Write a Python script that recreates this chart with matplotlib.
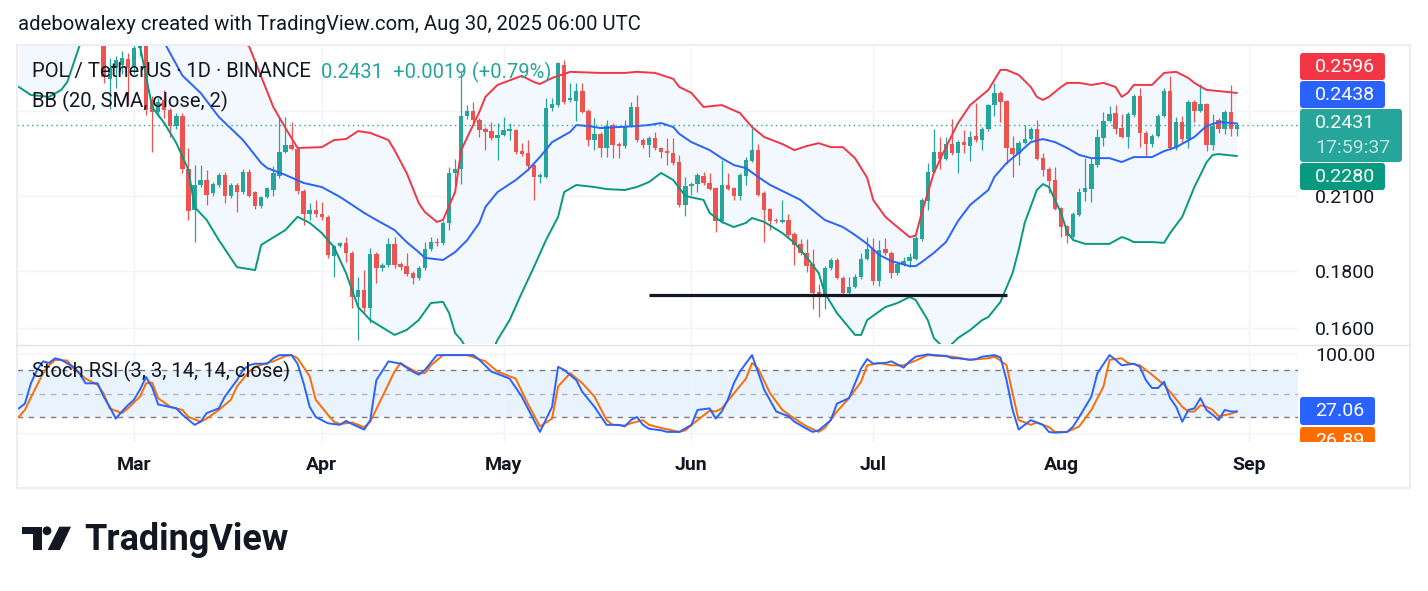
import numpy as np
import matplotlib
matplotlib.use("Agg")
import matplotlib.pyplot as plt
import matplotlib.dates as mdates
from matplotlib.patches import FancyBboxPatch, Rectangle, Circle, Polygon
from matplotlib.ticker import FixedLocator, FuncFormatter, NullLocator, NullFormatter

plt.rcParams['font.family'] = ['Roboto', 'DejaVu Sans']

START = np.datetime64('2025-03-01')   # day 0 of every day offset below
first_day = -5                        # first candle: Feb 24

opens = [0.2950, 0.2670, 0.2730, 0.2750, 0.2785, 0.2740, 0.2850, 0.3150, 0.2559, 0.2497,
         0.2559, 0.2507, 0.2425, 0.2476, 0.2220, 0.2040, 0.2148, 0.2170, 0.2113, 0.2150,
         0.2193, 0.2100, 0.2148, 0.2117, 0.2206, 0.2117, 0.2058, 0.2096, 0.2126, 0.2188,
         0.2299, 0.2332, 0.2315, 0.2122, 0.2024, 0.2040, 0.2024, 0.2012, 0.1856, 0.1895,
         0.1907, 0.1868, 0.1706, 0.1731, 0.1668, 0.1864, 0.1810, 0.1822, 0.1903, 0.1826,
         0.1818, 0.1792, 0.1774, 0.1811, 0.1883, 0.1912, 0.1906, 0.1988, 0.2202, 0.2220,
         0.2476, 0.2502, 0.2455, 0.2410, 0.2400, 0.2366, 0.2381, 0.2400, 0.2405, 0.2303,
         0.2294, 0.2238, 0.2184, 0.2184, 0.2517, 0.2532, 0.2750, 0.2559, 0.2554, 0.2607,
         0.2502, 0.2356, 0.2386, 0.2318, 0.2430, 0.2337, 0.2327, 0.2425, 0.2522, 0.2356,
         0.2332, 0.2366, 0.2318, 0.2303, 0.2294, 0.2252, 0.2062, 0.2143, 0.2152, 0.2188,
         0.2157, 0.2135, 0.1994, 0.2148, 0.2135, 0.2100, 0.2188, 0.2257, 0.2308, 0.2113,
         0.2045, 0.1999, 0.1990, 0.1999, 0.1942, 0.1903, 0.1868, 0.1826, 0.1722, 0.1718,
         0.1810, 0.1841, 0.1774, 0.1720, 0.1742, 0.1778, 0.1845, 0.1883, 0.1763, 0.1883,
         0.1868, 0.1792, 0.1826, 0.1837, 0.1845, 0.1922, 0.2079, 0.2206, 0.2299, 0.2266,
         0.2337, 0.2294, 0.2346, 0.2327, 0.2376, 0.2356, 0.2410, 0.2532, 0.2596, 0.2554,
         0.2318, 0.2290, 0.2341, 0.2361, 0.2410, 0.2270, 0.2220, 0.2170, 0.2049, 0.1974,
         0.1930, 0.2020, 0.2117, 0.2130, 0.2238, 0.2366, 0.2450, 0.2491, 0.2415, 0.2371,
         0.2481, 0.2580, 0.2391, 0.2337, 0.2376, 0.2476, 0.2607, 0.2318, 0.2445, 0.2361,
         0.2549, 0.2502, 0.2537, 0.2332, 0.2455, 0.2410, 0.2497, 0.2412]
highs = [0.3000, 0.2790, 0.2800, 0.2830, 0.2820, 0.2880, 0.3250, 0.3180, 0.2580, 0.2570,
         0.2612, 0.2515, 0.2490, 0.2490, 0.2318, 0.2238, 0.2238, 0.2215, 0.2160, 0.2200,
         0.2205, 0.2155, 0.2155, 0.2220, 0.2220, 0.2120, 0.2100, 0.2138, 0.2233, 0.2471,
         0.2471, 0.2445, 0.2320, 0.2130, 0.2070, 0.2083, 0.2075, 0.2020, 0.1900, 0.1912,
         0.1930, 0.1875, 0.1778, 0.1803, 0.1887, 0.1870, 0.1830, 0.1926, 0.1930, 0.1835,
         0.1868, 0.1800, 0.1820, 0.1910, 0.1930, 0.1926, 0.1995, 0.2229, 0.2265, 0.2711,
         0.2532, 0.2546, 0.2465, 0.2418, 0.2444, 0.2440, 0.2471, 0.2440, 0.2410, 0.2341,
         0.2356, 0.2245, 0.2200, 0.2570, 0.2570, 0.2767, 0.2778, 0.2650, 0.2650, 0.2650,
         0.2510, 0.2465, 0.2395, 0.2455, 0.2440, 0.2345, 0.2455, 0.2546, 0.2585, 0.2365,
         0.2375, 0.2395, 0.2325, 0.2366, 0.2366, 0.2285, 0.2184, 0.2160, 0.2200, 0.2206,
         0.2202, 0.2140, 0.2261, 0.2202, 0.2140, 0.2200, 0.2275, 0.2415, 0.2337, 0.2120,
         0.2050, 0.2005, 0.2083, 0.2024, 0.1950, 0.1922, 0.1922, 0.1883, 0.1752, 0.1820,
         0.1849, 0.1849, 0.1780, 0.1778, 0.1789, 0.1868, 0.1930, 0.1926, 0.1918, 0.1926,
         0.1875, 0.1835, 0.1853, 0.1868, 0.1935, 0.2090, 0.2247, 0.2410, 0.2371, 0.2371,
         0.2460, 0.2355, 0.2405, 0.2400, 0.2541, 0.2420, 0.2540, 0.2650, 0.2605, 0.2559,
         0.2376, 0.2350, 0.2430, 0.2420, 0.2455, 0.2294, 0.2229, 0.2229, 0.2055, 0.1980,
         0.2032, 0.2135, 0.2270, 0.2270, 0.2410, 0.2497, 0.2527, 0.2532, 0.2486, 0.2495,
         0.2590, 0.2622, 0.2400, 0.2385, 0.2485, 0.2622, 0.2689, 0.2471, 0.2476, 0.2560,
         0.2560, 0.2644, 0.2545, 0.2486, 0.2465, 0.2505, 0.2639, 0.2440]
lows = [0.2650, 0.2510, 0.2620, 0.2700, 0.2532, 0.2700, 0.2800, 0.2480, 0.2299, 0.2470,
        0.2465, 0.2370, 0.2410, 0.2200, 0.1999, 0.1910, 0.2140, 0.2062, 0.2100, 0.2140,
        0.2070, 0.2090, 0.2032, 0.2110, 0.2095, 0.2045, 0.2050, 0.2090, 0.2100, 0.2180,
        0.2295, 0.2308, 0.2110, 0.1978, 0.1999, 0.2010, 0.2000, 0.1850, 0.1778, 0.1890,
        0.1833, 0.1668, 0.1562, 0.1651, 0.1617, 0.1756, 0.1800, 0.1815, 0.1810, 0.1803,
        0.1780, 0.1752, 0.1765, 0.1805, 0.1875, 0.1895, 0.1900, 0.1958, 0.2152, 0.2152,
        0.2460, 0.2440, 0.2370, 0.2308, 0.2356, 0.2261, 0.2375, 0.2356, 0.2290, 0.2280,
        0.2215, 0.2083, 0.2157, 0.2180, 0.2500, 0.2520, 0.2540, 0.2550, 0.2450, 0.2490,
        0.2327, 0.2308, 0.2275, 0.2275, 0.2270, 0.2270, 0.2320, 0.2420, 0.2345, 0.2320,
        0.2275, 0.2310, 0.2270, 0.2238, 0.2240, 0.2055, 0.2016, 0.2104, 0.2117, 0.2150,
        0.2125, 0.1950, 0.1985, 0.2125, 0.2083, 0.2083, 0.2148, 0.2250, 0.2100, 0.1910,
        0.1958, 0.1985, 0.1985, 0.1930, 0.1822, 0.1860, 0.1796, 0.1665, 0.1637, 0.1665,
        0.1805, 0.1770, 0.1710, 0.1713, 0.1738, 0.1772, 0.1840, 0.1749, 0.1745, 0.1860,
        0.1774, 0.1785, 0.1820, 0.1815, 0.1840, 0.1915, 0.2040, 0.2200, 0.2220, 0.2260,
        0.2285, 0.2202, 0.2294, 0.2257, 0.2345, 0.2308, 0.2400, 0.2476, 0.2445, 0.2243,
        0.2184, 0.2238, 0.2335, 0.2355, 0.2260, 0.2188, 0.2113, 0.2040, 0.1930, 0.1907,
        0.1925, 0.2015, 0.2079, 0.2075, 0.2230, 0.2327, 0.2445, 0.2386, 0.2365, 0.2318,
        0.2471, 0.2323, 0.2280, 0.2323, 0.2370, 0.2470, 0.2310, 0.2310, 0.2341, 0.2318,
        0.2445, 0.2495, 0.2303, 0.2308, 0.2390, 0.2386, 0.2376, 0.2376]
closes = [0.2685, 0.2730, 0.2778, 0.2790, 0.2733, 0.2845, 0.3150, 0.2507, 0.2497, 0.2549,
          0.2507, 0.2425, 0.2476, 0.2220, 0.2036, 0.2148, 0.2170, 0.2104, 0.2152, 0.2193,
          0.2100, 0.2148, 0.2117, 0.2206, 0.2100, 0.2058, 0.2096, 0.2135, 0.2202, 0.2299,
          0.2332, 0.2315, 0.2122, 0.2024, 0.2040, 0.2024, 0.2012, 0.1860, 0.1895, 0.1907,
          0.1868, 0.1706, 0.1731, 0.1668, 0.1864, 0.1810, 0.1822, 0.1903, 0.1822, 0.1815,
          0.1788, 0.1774, 0.1811, 0.1883, 0.1910, 0.1906, 0.1988, 0.2202, 0.2220, 0.2476,
          0.2502, 0.2455, 0.2405, 0.2396, 0.2366, 0.2381, 0.2405, 0.2408, 0.2299, 0.2290,
          0.2233, 0.2184, 0.2193, 0.2517, 0.2537, 0.2761, 0.2549, 0.2570, 0.2607, 0.2497,
          0.2356, 0.2386, 0.2318, 0.2425, 0.2332, 0.2327, 0.2425, 0.2522, 0.2356, 0.2332,
          0.2366, 0.2318, 0.2299, 0.2294, 0.2247, 0.2062, 0.2143, 0.2152, 0.2193, 0.2157,
          0.2130, 0.1994, 0.2148, 0.2130, 0.2100, 0.2193, 0.2261, 0.2308, 0.2104, 0.2040,
          0.1994, 0.1994, 0.1999, 0.1938, 0.1899, 0.1868, 0.1818, 0.1720, 0.1718, 0.1810,
          0.1841, 0.1774, 0.1720, 0.1742, 0.1778, 0.1845, 0.1883, 0.1763, 0.1879, 0.1868,
          0.1792, 0.1826, 0.1837, 0.1853, 0.1926, 0.2083, 0.2206, 0.2299, 0.2266, 0.2337,
          0.2294, 0.2346, 0.2332, 0.2371, 0.2356, 0.2410, 0.2532, 0.2596, 0.2549, 0.2318,
          0.2290, 0.2341, 0.2361, 0.2410, 0.2266, 0.2215, 0.2166, 0.2045, 0.1970, 0.1934,
          0.2024, 0.2117, 0.2135, 0.2243, 0.2371, 0.2450, 0.2486, 0.2410, 0.2371, 0.2486,
          0.2580, 0.2391, 0.2337, 0.2376, 0.2476, 0.2607, 0.2318, 0.2445, 0.2361, 0.2549,
          0.2502, 0.2537, 0.2332, 0.2425, 0.2410, 0.2497, 0.2412, 0.2431]

# Bollinger bands (20, 2), read at sample days
upper_days = [-19, -12, -6, 0, 6, 12, 16, 19, 23, 25, 27, 31, 33, 35, 37, 39,
              42, 43, 45, 47, 48, 50, 51, 53, 54, 57, 58, 60, 64, 66, 67, 69, 72, 77,
              81, 83, 86, 89, 90, 92, 94, 97, 100, 102, 104, 107, 109, 111, 113, 115, 117, 119,
              121, 122, 124, 126, 128, 129, 130, 132, 134, 136, 138, 141, 143, 144, 146, 148, 149, 150,
              151, 153, 154, 156, 158, 160, 162, 163, 164, 165, 168, 170, 172, 174, 175, 177, 179, 182]
upper_vals = [0.345, 0.335, 0.325, 0.318, 0.310, 0.300, 0.292, 0.2858, 0.2522, 0.2415, 0.2318, 0.2322, 0.2356, 0.2361, 0.2400, 0.2391,
              0.2356, 0.2308, 0.2202, 0.2070, 0.2032, 0.1991, 0.1999, 0.2117, 0.2308, 0.2496, 0.2575, 0.2639, 0.2689, 0.2655, 0.2644, 0.2677, 0.2711, 0.2705,
              0.2705, 0.2711, 0.2705, 0.2672, 0.2628, 0.2596, 0.2522, 0.2532, 0.2491, 0.2420, 0.2371, 0.2337, 0.2308, 0.2327, 0.2341, 0.2322, 0.2322, 0.2270,
              0.2180, 0.2083, 0.2012, 0.1970, 0.1930, 0.1935, 0.2028, 0.2202, 0.2322, 0.2440, 0.2532, 0.2612, 0.2722, 0.2722, 0.2694, 0.2628, 0.2575, 0.2559,
              0.2575, 0.2628, 0.2650, 0.2650, 0.2639, 0.2650, 0.2628, 0.2575, 0.2596, 0.2639, 0.2639, 0.2705, 0.2711, 0.2677, 0.2650, 0.2612, 0.2606, 0.2596]

mid_days = [-19, -10, -3, 2, 5, 8, 11, 14, 18, 21, 22, 25, 28, 31, 34, 36, 38, 40,
            43, 45, 47, 48, 51, 53, 55, 57, 58, 60, 63, 65, 67, 69, 72, 73, 75, 77,
            80, 83, 85, 87, 89, 90, 92, 95, 97, 99, 101, 103, 105, 108, 110, 112, 114, 117,
            119, 121, 123, 125, 128, 129, 130, 132, 134, 136, 138, 141, 142, 144, 146, 148, 150, 152,
            154, 156, 158, 161, 163, 165, 168, 170, 172, 175, 177, 179, 182]
mid_vals = [0.320, 0.312, 0.303, 0.295, 0.2880, 0.2690, 0.2596, 0.2471, 0.2356, 0.2247, 0.2224, 0.2193, 0.2157, 0.2139, 0.2096, 0.2062, 0.2028, 0.1999,
            0.1958, 0.1910, 0.1871, 0.1849, 0.1841, 0.1871, 0.1918, 0.1987, 0.2053, 0.2117, 0.2170, 0.2215, 0.2275, 0.2346, 0.2396, 0.2430, 0.2425, 0.2415,
            0.2420, 0.2425, 0.2430, 0.2440, 0.2420, 0.2386, 0.2346, 0.2308, 0.2270, 0.2238, 0.2224, 0.2184, 0.2148, 0.2109, 0.2083, 0.2040, 0.1999, 0.1970,
            0.1938, 0.1903, 0.1860, 0.1837, 0.1818, 0.1818, 0.1833, 0.1868, 0.1910, 0.1995, 0.2062, 0.2126, 0.2184, 0.2247, 0.2294, 0.2346, 0.2361, 0.2346,
            0.2318, 0.2285, 0.2270, 0.2270, 0.2252, 0.2275, 0.2275, 0.2303, 0.2322, 0.2371, 0.2425, 0.2445, 0.2438]

lower_days = [-19, -17, -14, -12, -11, -9, -7, -3, 0, 1, 3, 5, 7, 9, 10, 12, 14, 17, 20, 21,
              25, 27, 29, 31, 33, 35, 37, 39, 43, 45, 47, 49, 51, 52, 53, 54, 56, 58, 60, 62,
              64, 66, 68, 70, 71, 73, 76, 78, 81, 83, 85, 87, 89, 91, 94, 95, 97, 99, 101, 102,
              104, 107, 109, 111, 113, 114, 116, 119, 120, 121, 124, 126, 128, 129, 131, 132, 134, 136, 138, 140,
              141, 143, 145, 146, 147, 149, 150, 151, 153, 154, 155, 157, 161, 163, 164, 165, 168, 170, 171, 173,
              175, 177, 178, 179, 182]
lower_vals = [0.2628, 0.2585, 0.2575, 0.2612, 0.2655, 0.2858, 0.2950, 0.2990, 0.2950, 0.2858, 0.2522, 0.2440, 0.2341, 0.2215, 0.2053, 0.1999, 0.1918, 0.1814, 0.1803, 0.1899,
              0.1958, 0.2012, 0.1987, 0.1946, 0.1891, 0.1792, 0.1671, 0.1627, 0.1578, 0.1594, 0.1627, 0.1685, 0.1689, 0.1651, 0.1584, 0.1562, 0.1500, 0.1480, 0.1562, 0.1627,
              0.1720, 0.1814, 0.1918, 0.2012, 0.2117, 0.2148, 0.2139, 0.2130, 0.2126, 0.2139, 0.2161, 0.2202, 0.2170, 0.2100, 0.2083, 0.2028, 0.1991, 0.1970, 0.1987, 0.2007,
              0.1991, 0.1946, 0.1907, 0.1852, 0.1792, 0.1720, 0.1651, 0.1578, 0.1578, 0.1627, 0.1671, 0.1685, 0.1706, 0.1696, 0.1627, 0.1568, 0.1530, 0.1568, 0.1594, 0.1627,
              0.1637, 0.1689, 0.1792, 0.1879, 0.1987, 0.2126, 0.2152, 0.2139, 0.2028, 0.1950, 0.1918, 0.1903, 0.1903, 0.1930, 0.1922, 0.1910, 0.1910, 0.1907, 0.1946, 0.2012,
              0.2139, 0.2250, 0.2285, 0.2289, 0.2280]

# Stoch RSI (3, 3, 14, 14): %K and %D
k_days = [-19, -18, -17, -16, -15, -14, -13, -12, -10, -9, -8, -6, -5, -4, -3, -2, -1, 0, 1, 2,
          3, 4, 7, 8, 10, 11, 12, 14, 15, 17, 18, 19, 20, 22, 23, 24, 26, 27, 28, 29,
          30, 32, 34, 35, 36, 38, 39, 40, 42, 44, 46, 47, 48, 50, 52, 54, 56, 57, 59, 61,
          62, 64, 66, 67, 69, 70, 71, 73, 74, 76, 78, 79, 80, 81, 82, 83, 84, 85, 87, 88,
          90, 92, 93, 95, 96, 97, 98, 99, 100, 102, 104, 106, 108, 109, 111, 112, 113, 115, 116, 118,
          119, 120, 121, 122, 124, 125, 127, 128, 129, 131, 132, 134, 135, 136, 138, 139, 140, 142, 143, 144,
          145, 146, 147, 148, 150, 151, 152, 154, 155, 156, 158, 159, 161, 162, 163, 165, 166, 167, 168, 169,
          170, 171, 172, 173, 174, 175, 176, 177, 178, 179, 180, 181, 182]
k_vals = [31, 37, 63, 80, 91, 89, 95, 93, 84, 76, 63, 63, 46, 33, 18, 27, 35, 42, 55, 71,
          58, 36, 31, 23, 10, 14, 25, 31, 46, 67, 80, 86, 88, 88, 95, 99, 99, 88, 63, 33,
          20, 12, 10, 15, 11, 4, 16, 67, 91, 88, 78, 74, 80, 99, 99, 99, 99, 93, 78, 72,
          69, 46, 16, 1, 33, 84, 80, 67, 52, 33, 10, 10, 10, 8, 16, 20, 10, 5, 3, 1,
          1, 10, 29, 31, 18, 27, 42, 63, 78, 99, 55, 27, 21, 14, 5, 1, 3, 16, 37, 44,
          63, 82, 94, 88, 89, 91, 83, 91, 97, 100, 99, 98, 95, 95, 93, 94, 97, 99, 96, 67,
          29, 4, 10, 16, 10, 1, 0, 1, 8, 20, 46, 76, 99, 93, 86, 88, 84, 67, 57, 57,
          65, 44, 33, 14, 29, 31, 44, 29, 23, 16, 29, 27, 27.06]
d_days = [-19, -18, -17, -15, -14, -13, -11, -10, -8, -6, -5, -4, -2, -1, 1, 2, 3, 4, 6, 8,
          9, 11, 12, 14, 16, 17, 19, 20, 22, 23, 25, 26, 27, 29, 30, 32, 33, 34, 36, 38,
          39, 41, 43, 44, 45, 47, 48, 49, 51, 55, 58, 60, 63, 65, 67, 69, 70, 72, 74, 76,
          78, 79, 81, 82, 84, 85, 87, 90, 91, 93, 95, 96, 97, 99, 101, 102, 103, 105, 107, 109,
          111, 113, 114, 116, 118, 120, 121, 123, 125, 127, 129, 131, 133, 135, 138, 141, 142, 143, 144, 145,
          146, 148, 149, 151, 152, 154, 156, 158, 160, 161, 163, 164, 166, 168, 170, 171, 173, 174, 175, 176,
          177, 178, 179, 181, 182]
d_vals = [20, 29, 45, 76, 86, 93, 92, 82, 69, 61, 50, 31, 25, 31, 46, 63, 64, 44, 33, 29,
          20, 14, 18, 29, 42, 59, 78, 84, 89, 91, 98, 99, 95, 72, 42, 23, 14, 11, 13, 7,
          14, 46, 78, 89, 84, 76, 76, 86, 99, 99, 91, 78, 69, 37, 8, 18, 59, 76, 63, 46,
          16, 10, 9, 12, 16, 10, 6, 1, 3, 16, 28, 27, 31, 50, 69, 89, 82, 50, 29, 18,
          8, 1, 6, 27, 44, 65, 86, 89, 86, 86, 92, 99, 98, 97, 93, 95, 97, 92, 86, 50,
          16, 10, 13, 7, 1, 1, 8, 29, 59, 93, 95, 89, 86, 74, 61, 52, 33, 27, 27, 35,
          33, 29, 21, 24, 26.89]

# hand-drawn support line
support_days = [85, 144]
support_price = 0.1712

months = ['2025-03-01', '2025-04-01', '2025-05-01', '2025-06-01', '2025-07-01', '2025-08-01', '2025-09-01']
price_ticks = [0.16, 0.18, 0.21, 0.25]
hidden_ticks = [0.25]          # label sits under the price badges

GREEN = '#26a69a'
RED = '#ef5350'
TEXT = '#131722'


def to_x(days):
    return mdates.date2num(START + np.array(days).astype('timedelta64[D]'))


W, H = 1428, 591
fig = plt.figure(figsize=(W / 100, H / 100), dpi=100)
fig.patch.set_facecolor('white')


def rect(x0, y0, x1, y1):
    # pixel box (top-left origin) -> figure fraction
    return [x0 / W, 1 - y1 / H, (x1 - x0) / W, (y1 - y0) / H]


ax = fig.add_axes(rect(17, 46, 1298, 344))
ax2 = fig.add_axes(rect(17, 345, 1298, 442), sharex=ax)

o, h, l, c = (np.array(v) for v in (opens, highs, lows, closes))
cx = to_x(np.arange(first_day, first_day + len(c)))
col = np.where(c >= o, GREEN, RED)

# --- price pane
ax.set_yscale('log')
ux, lx = to_x(upper_days), to_x(lower_days)
ax.fill(np.concatenate([ux, lx[::-1]]), np.concatenate([upper_vals, lower_vals[::-1]]),
        color='#f3f8fe', lw=0, zorder=1)
ax.vlines(cx, l, h, colors=col, lw=0.9, zorder=2)
body_lo = np.minimum(o, c)
body_h = np.maximum(np.abs(c - o), body_lo * 0.003)
ax.bar(cx, body_h, bottom=body_lo, width=0.72, color=col, lw=0, zorder=2.5)
ax.plot(ux, upper_vals, color='#f23645', lw=1.4, zorder=3)
ax.plot(to_x(mid_days), mid_vals, color='#2962ff', lw=1.4, zorder=3)
ax.plot(lx, lower_vals, color='#089981', lw=1.4, zorder=3)
ax.axhline(c[-1], color=GREEN, lw=1.0, ls=(0, (1, 2.5)), zorder=3)
ax.plot(to_x(support_days), [support_price] * 2, color=TEXT, lw=2.3, solid_capstyle='butt', zorder=5)

ax.set_ylim(0.15488, 0.2859)
ax.yaxis.set_major_locator(FixedLocator(price_ticks))
ax.yaxis.set_major_formatter(FuncFormatter(lambda v, _: '' if round(v, 4) in hidden_ticks else f'{v:.4f}'))
ax.yaxis.set_minor_locator(NullLocator())
ax.yaxis.set_minor_formatter(NullFormatter())
ax.yaxis.tick_right()
ax.tick_params(axis='y', length=0, pad=12.2, labelsize=14, labelcolor=TEXT)
ax.tick_params(axis='x', length=0, labelbottom=False)

# --- stoch rsi pane
ax2.axhspan(20, 80, color='#e8f3fd', lw=0, zorder=0.5)
ax2.axhline(80, color='#787b86', lw=1, ls=(0, (4, 4)), zorder=1)
ax2.axhline(50, color='#b2b5be', lw=1, ls=(0, (4, 4)), zorder=1)
ax2.axhline(20, color='#787b86', lw=1, ls=(0, (4, 4)), zorder=1)
ax2.plot(to_x(k_days), k_vals, color='#2962ff', lw=1.4, zorder=3)
ax2.plot(to_x(d_days), d_vals, color='#ff6d00', lw=1.4, zorder=2.5)
ax2.set_ylim(-11.9, 111.9)
ax2.yaxis.set_major_locator(FixedLocator([0, 100]))
ax2.yaxis.set_major_formatter(FuncFormatter(lambda v, _: '100.00' if v == 100 else ''))
ax2.yaxis.tick_right()
ax2.tick_params(axis='y', length=0, pad=12.2, labelsize=14, labelcolor=TEXT)

x0 = mdates.date2num(START)
ax.set_xlim(x0 - 19.3, x0 + 192.1)
ax2.xaxis.set_major_locator(FixedLocator(mdates.date2num(np.array(months, dtype='datetime64[D]'))))
ax2.xaxis.set_major_formatter(mdates.DateFormatter('%b'))
ax2.tick_params(axis='x', length=0, pad=10, labelsize=14, labelcolor=TEXT)
plt.setp(ax2.get_xticklabels(), fontweight='bold')

for a in (ax, ax2):
    a.set_facecolor('white')
    a.grid(True, color='#f0f3fa', lw=1)
    a.set_axisbelow(True)
    for s in a.spines.values():
        s.set_visible(False)

# --- overlay in pixel coordinates: frame, texts, price badges, logo
ov = fig.add_axes([0, 0, 1, 1])
ov.set_xlim(0, W)
ov.set_ylim(H, 0)
ov.axis('off')

ov.add_patch(Rectangle((16.5, 45), 1410 - 16.5, 488 - 45, fill=False, ec='#eceef3', lw=1.5))
ov.plot([17, 1410], [344.5, 344.5], color='#e0e3eb', lw=1)

ov.text(18, 25, 'adebowalexy created with TradingView.com, Aug 30, 2025 06:00 UTC',
        fontsize=14.6, color=TEXT, va='center')
chg = c[-1] - c[-2]
ov.text(32, 72, 'POL / TetherUS · 1D · BINANCE', fontsize=14.6, color=TEXT, va='center')
ov.text(321, 72, f'{c[-1]:.4f}  {chg:+.4f} ({chg / c[-2] * 100:+.2f}%)',
        fontsize=14.6, color=GREEN, va='center')
ov.text(32, 101, 'BB (20, SMA, close, 2)', fontsize=14.6, color=TEXT, va='center')
ov.text(32, 371, 'Stoch RSI (3, 3, 14, 14, close)', fontsize=14.6, color=TEXT, va='center')

clip = Rectangle((1290, 345), 130, 97, transform=ov.transData)


def badge(y0, y1, x1, color, label, clipped=False):
    p = FancyBboxPatch((1300, y0), x1 - 1300, y1 - y0, boxstyle='round,pad=0,rounding_size=3',
                       fc=color, ec='none')
    ov.add_patch(p)
    t = ov.text(1315, (y0 + y1) / 2, label, fontsize=14, color='white', va='center')
    if clipped:
        p.set_clip_path(clip)
        t.set_clip_path(clip)


badge(53, 80, 1385, '#f23645', f'{upper_vals[-1]:.4f}')
badge(81, 108, 1385, '#2962ff', f'{mid_vals[-1]:.4f}')
ov.add_patch(FancyBboxPatch((1300, 109), 102, 53, boxstyle='round,pad=0,rounding_size=3', fc=GREEN, ec='none'))
ov.text(1315, 123, f'{c[-1]:.4f}', fontsize=14, color='white', va='center')
ov.text(1315, 148, '17:59:37', fontsize=14, color='#bfe6e1', va='center')
badge(163, 190, 1385, '#089981', f'{lower_vals[-1]:.4f}')
badge(397, 425, 1375, '#2962ff', f'{k_vals[-1]:.2f}')
badge(427, 455, 1375, '#ff6d00', f'{d_vals[-1]:.2f}', clipped=True)

# TradingView logo
ov.add_patch(Rectangle((21.7, 526.7), 20, 7.6, color=TEXT, lw=0))
ov.add_patch(Rectangle((32.7, 526.7), 9, 23.3, color=TEXT, lw=0))
ov.add_patch(Circle((47, 530.8), 4.4, color=TEXT, lw=0))
ov.add_patch(Polygon([(59.3, 526.7), (71, 526.7), (60, 550), (47.7, 550)], closed=True, color=TEXT, lw=0))
ov.text(84, 550, 'TradingView', fontsize=25.9, fontweight='bold', color=TEXT, va='baseline')

fig.savefig('out.png', dpi=100, facecolor='white')
